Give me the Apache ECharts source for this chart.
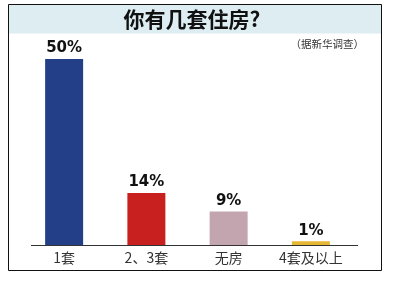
<html>
<head>
    <meta http-equiv="Content-Type" content="text/html; charset=utf-8" />
    <title>你有几套住房?</title>
    <style type="text/css">
        * {
            margin: 0;
            padding: 0
        }

        html,
        body {
            width: 100%;
            height: 100%;
            background: #fff;
        }

        #charts {
            width: 393px;
            height: 290px;
        }
    </style>
    <script src="https://cdn.jsdelivr.net/npm/echarts@6/dist/echarts.min.js"></script>
</head>

<body>
    <div id="charts"></div>
    <script>
        // 数据
        const categories = ['1套', '2、3套', '无房', '4套及以上'];
        const percents = [50, 14, 9, 1];
        const barColors = ['#233f88', '#c8201f', '#c3a5b0', '#e6b733'];

        const cjk = '"Noto Sans CJK SC", "Liberation Sans", sans-serif';

        const myChart = echarts.init(document.querySelector('#charts'));
        const option = {
            backgroundColor: '#fff',
            animation: false,
            graphic: [
                {
                    type: 'rect', z: -1,
                    shape: { x: 8.5, y: 4.5, width: 373, height: 29 },
                    style: { fill: '#ddedf2' }
                },
                {
                    type: 'rect', z: 10,
                    shape: { x: 8.5, y: 4.5, width: 373, height: 266 },
                    style: { fill: 'none', stroke: '#111', lineWidth: 1 }
                },
                {
                    type: 'text', z: 10,
                    style: {
                        x: 192, y: 19, text: '你有几套住房?',
                        fill: '#111', font: 'bold 21px ' + cjk,
                        align: 'center', verticalAlign: 'middle'
                    }
                },
                {
                    type: 'text', z: 10,
                    style: {
                        x: 364, y: 44, text: '（据新华调查）',
                        fill: '#333', font: '10.5px ' + cjk,
                        align: 'right', verticalAlign: 'middle'
                    }
                },
                {
                    // 底部横线
                    type: 'line', z: 10,
                    shape: { x1: 31, y1: 245.5, x2: 358, y2: 245.5 },
                    style: { stroke: '#333', lineWidth: 1 }
                }
            ],
            grid: {
                left: 23,
                right: 41,
                top: 59,
                bottom: 45
            },
            xAxis: {
                type: 'category',
                data: categories,
                axisLine: { show: false },
                axisTick: { show: false },
                axisLabel: {
                    interval: 0,
                    hideOverlap: false,
                    color: '#333',
                    fontSize: 14,
                    fontFamily: cjk,
                    margin: 6
                }
            },
            yAxis: {
                type: 'value',
                min: 0,
                max: 50,
                show: false
            },
            series: [{
                type: 'bar',
                barWidth: 38,
                data: percents.map((v, i) => ({ value: v, itemStyle: { color: barColors[i] } })),
                label: {
                    show: true,
                    position: 'top',
                    distance: 3,
                    formatter: '{c}%',
                    color: '#111',
                    fontSize: 15,
                    fontWeight: 'bold',
                    fontFamily: '"DejaVu Sans", Arial, sans-serif'
                }
            }]
        };
        myChart.setOption(option);
    </script>
</body>

</html>
